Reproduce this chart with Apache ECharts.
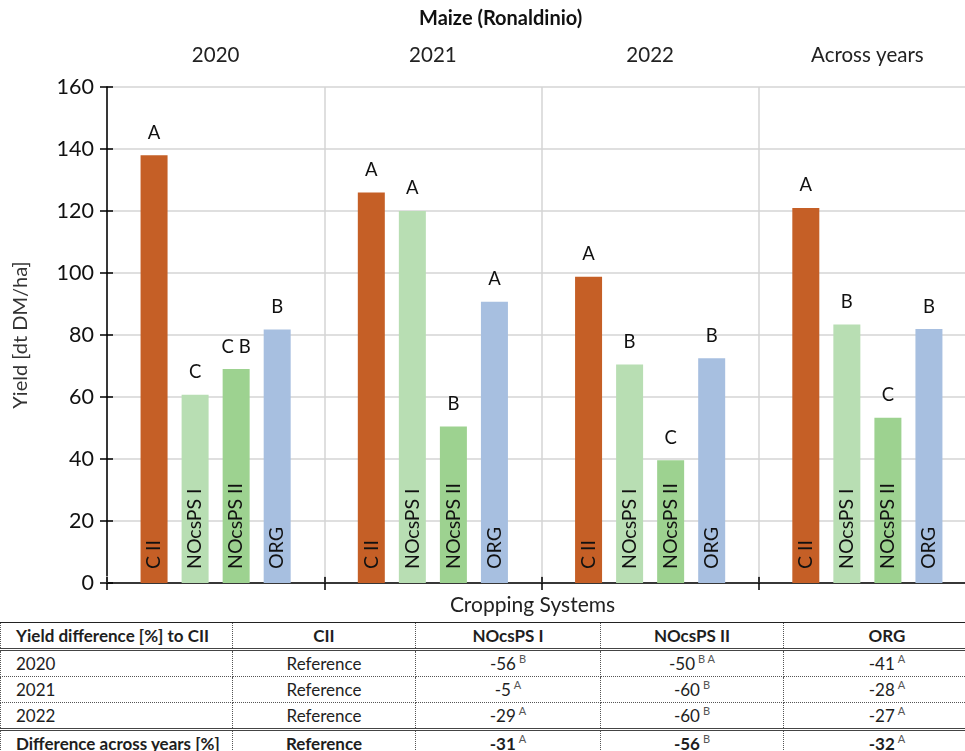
<!DOCTYPE html>
<html>
<head>
<meta charset="utf-8">
<script src="https://cdn.jsdelivr.net/npm/echarts@6/dist/echarts.min.js"></script>
<style>
  html, body { margin: 0; padding: 0; background: #fff; overflow: hidden; width: 965px; height: 751px; }
  #chart { position: absolute; left: 0; top: 0; width: 1000px; height: 620px; }
  #diff { position: absolute; left: 0; top: 622px; width: 990px; border-collapse: collapse;
          font-family: Lato, "Open Sans", sans-serif; font-size: 17px; color: #1e1e1e; table-layout: fixed; }
  #diff td { height: 25px; padding: 0; text-align: center; border-left: 1px dotted #555; border-right: 1px dotted #555; white-space: nowrap; }
  #diff td:first-child { text-align: left; padding-left: 15px; }
  #diff tr.head td { font-weight: bold; border-top: 1.5px solid #222; border-bottom: 3px double #444; }
  #diff tr.yr td { border-bottom: 1px dotted #555; }
  #diff tr.yr.last td { border-bottom: 3px double #444; }
  #diff tr.tot td { font-weight: bold; }
  #diff sup { font-size: 11px; color: #555; font-weight: normal; vertical-align: 7px; margin-left: 3px; line-height: 0; }
</style>
</head>
<body>
<div id="chart"></div>
<table id="diff">
  <colgroup>
    <col style="width:232px"><col style="width:183px"><col style="width:185px"><col style="width:183px"><col style="width:207px">
  </colgroup>
  <tbody id="diffBody"></tbody>
</table>
<script>
// Groups along the x axis and the cropping systems shown in each group
const groups = ['2020', '2021', '2022', 'Across years'];
const systems = ['C II', 'NOcsPS I', 'NOcsPS II', 'ORG'];

// Yield [dt DM/ha] per cropping system, one value per group
const yieldCII = [138, 126, 98.8, 121];
const yieldNOcsPS1 = [60.7, 120, 70.5, 83.4];
const yieldNOcsPS2 = [69, 50.5, 39.6, 53.3];
const yieldORG = [81.8, 90.7, 72.5, 81.9];

// Significance letters above the bars
const lettersCII = ['A', 'A', 'A', 'A'];
const lettersNOcsPS1 = ['C', 'A', 'B', 'B'];
const lettersNOcsPS2 = ['C B', 'B', 'C', 'C'];
const lettersORG = ['B', 'A', 'B', 'B'];

// Y axis ticks
const yTicks = [0, 20, 40, 60, 80, 100, 120, 140, 160];

// Table: yield difference [%] to CII
const tableHeader = ['Yield difference [%] to CII', 'CII', 'NOcsPS I', 'NOcsPS II', 'ORG'];
const tableRowNames = ['2020', '2021', '2022', 'Difference across years [%]'];
const diffNOcsPS1 = [-56, -5, -29, -31];
const diffNOcsPS2 = [-50, -60, -60, -56];
const diffORG = [-41, -28, -27, -32];
const supNOcsPS1 = ['B', 'A', 'A', 'A'];
const supNOcsPS2 = ['B A', 'B', 'B', 'B'];
const supORG = ['A', 'A', 'A', 'A'];

const colors = ['#C55F26', '#B8DEB3', '#9DD290', '#A7BFE0'];
const font = 'Lato, "Open Sans", sans-serif';

const values = [yieldCII, yieldNOcsPS1, yieldNOcsPS2, yieldORG];
const letters = [lettersCII, lettersNOcsPS1, lettersNOcsPS2, lettersORG];

// Visible bars with the system name written upright inside
const series = systems.map((name, i) => ({
  name: name,
  type: 'bar',
  xAxisIndex: 0,
  yAxisIndex: 0,
  barWidth: 27,
  barGap: '52%',
  itemStyle: { color: colors[i] },
  label: {
    show: true,
    position: 'insideBottom',
    rotate: 90,
    align: 'left',
    verticalAlign: 'middle',
    distance: 14,
    formatter: name,
    fontFamily: font,
    fontSize: 19.5,
    color: '#111'
  },
  data: values[i],
  z: 3
}));

// Letters above the bars: transparent twins laid out on their own category axis
systems.forEach((name, i) => {
  series.push({
    name: name + ' letters',
    type: 'bar',
    xAxisIndex: 2,
    yAxisIndex: 0,
    barWidth: 27,
    barGap: '52%',
    itemStyle: { color: 'rgba(0,0,0,0)' },
    data: values[i],
    silent: true,
    z: 1,
    label: {
      show: true,
      position: 'top',
      distance: 13,
      fontFamily: font,
      fontSize: 18.5,
      color: '#111',
      formatter: p => letters[i][p.dataIndex]
    }
  });
});

const chart = echarts.init(document.getElementById('chart'), null, { renderer: 'canvas' });
chart.setOption({
  animation: false,
  backgroundColor: '#fff',
  graphic: [{
    type: 'text',
    left: 539 - 120,
    top: 9,
    style: { text: 'Maize (Ronaldinio)', fontFamily: font, fontWeight: 'bold', fontSize: 20, fill: '#111', width: 240, align: 'center' }
  }],
  grid: { left: 107, right: 24, top: 87, bottom: 37, outerBoundsMode: 'none', containLabel: false },
  xAxis: [{
    type: 'category',
    data: groups,
    position: 'bottom',
    axisLine: { lineStyle: { color: '#000', width: 1.5 } },
    axisTick: { show: true, length: 7, lineStyle: { color: '#000', width: 1.5 } },
    axisLabel: { show: false },
    splitLine: { show: true, lineStyle: { color: '#d4d4d4', width: 1.5 } },
    name: 'Cropping Systems',
    nameLocation: 'middle',
    nameGap: 12,
    nameTextStyle: { fontFamily: font, fontSize: 21, color: '#222', padding: [0, 18, 0, 0] }
  }, {
    type: 'category',
    data: groups,
    position: 'top',
    axisLine: { show: false },
    axisTick: { show: true, length: 7, lineStyle: { color: '#c8c8c8', width: 1.5 } },
    axisLabel: { show: true, fontFamily: font, fontSize: 20.5, color: '#222', margin: 21 },
    splitLine: { show: false }
  }, {
    type: 'category',
    data: groups,
    position: 'bottom',
    axisLine: { show: false },
    axisTick: { show: true, inside: true, length: 6, lineStyle: { color: '#000', width: 1.5 } },
    axisLabel: { show: false },
    splitLine: { show: false }
  }],
  yAxis: [{
    type: 'value',
    min: yTicks[0],
    max: yTicks[yTicks.length - 1],
    interval: 20,
    axisLine: { show: true, lineStyle: { color: '#000', width: 1.5 } },
    axisTick: { show: true, length: 7, lineStyle: { color: '#000', width: 1.5 } },
    axisLabel: { fontFamily: font, fontSize: 21.5, color: '#111', margin: 13 },
    splitLine: { show: true, lineStyle: { color: '#d4d4d4', width: 1.5 } },
    name: 'Yield [dt DM/ha]',
    nameLocation: 'middle',
    nameGap: 76,
    nameRotate: 90,
    nameTextStyle: { fontFamily: font, fontSize: 20, color: '#333' }
  }, {
    type: 'value',
    min: yTicks[0],
    max: yTicks[yTicks.length - 1],
    interval: 20,
    position: 'left',
    axisLine: { show: false },
    axisTick: { show: true, inside: true, length: 6, lineStyle: { color: '#000', width: 1.5 } },
    axisLabel: { show: false },
    splitLine: { show: false }
  }],
  series: series
});

// Build the difference table
const body = document.getElementById('diffBody');
const cols = [diffNOcsPS1, diffNOcsPS2, diffORG];
const sups = [supNOcsPS1, supNOcsPS2, supORG];
const head = document.createElement('tr');
head.className = 'head';
tableHeader.forEach(h => { const td = document.createElement('td'); td.textContent = h; head.appendChild(td); });
body.appendChild(head);
tableRowNames.forEach((rn, r) => {
  const tr = document.createElement('tr');
  tr.className = r < 3 ? ('yr' + (r === 2 ? ' last' : '')) : 'tot';
  let html = '<td>' + rn + '</td><td>Reference</td>';
  cols.forEach((c, k) => { html += '<td>' + c[r] + '<sup>' + sups[k][r] + '</sup></td>'; });
  tr.innerHTML = html;
  body.appendChild(tr);
});
</script>
</body>
</html>
